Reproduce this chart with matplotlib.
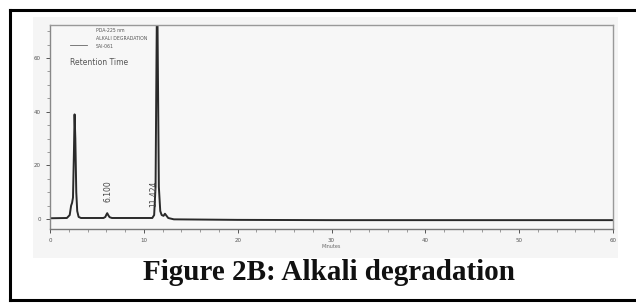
import matplotlib
matplotlib.use("Agg")
import matplotlib.pyplot as plt
from matplotlib.patches import Rectangle
from matplotlib.lines import Line2D
from matplotlib.ticker import MultipleLocator

# Chromatogram trace (retention time in minutes, detector response)
times = [0.0, 1.8, 2.1, 2.25, 2.35, 2.45, 2.55, 2.62, 2.7, 2.8, 2.9, 3.05, 3.3, 5.7, 5.9, 6.0, 6.1, 6.2,
         6.35, 6.6, 10.9, 11.1, 11.25, 11.35, 11.42, 11.5, 11.6, 11.75, 11.9, 12.1, 12.25, 12.4, 12.6, 13.2,
         20.0, 30.0, 40.0, 50.0, 60.0]
signal = [0.3, 0.4, 1.5, 5.0, 6.0, 8.0, 25.0, 39.0, 30.0, 10.0, 3.0, 0.8, 0.4, 0.4, 0.8, 1.6, 2.2, 1.5,
          0.7, 0.4, 0.4, 1.5, 12.0, 60.0, 90.0, 55.0, 12.0, 3.0, 1.5, 1.2, 2.0, 1.3, 0.4, -0.1,
          -0.3, -0.4, -0.4, -0.4, -0.4]

peak_labels = ["6.100", "11.424"]
peak_label_x = [6.2, 11.05]
peak_label_y = [6.5, 4.5]

x_ticks = [0, 10, 20, 30, 40, 50, 60]
y_ticks = [0, 20, 40, 60]

legend_lines = ["PDA-225 nm", "ALKALI DEGRADATION", "SAI-061"]
caption = "Figure 2B: Alkali degradation"

W, H = 636, 303
fig = plt.figure(figsize=(W / 100, H / 100), dpi=100)
fig.patch.set_facecolor("white")

# outer black frame (no right border)
frame = [((10, 10), (636, 10)), ((10, 10), (10, 300)), ((10, 300), (636, 300))]
for (x0, y0), (x1, y1) in frame:
    fig.add_artist(Line2D([x0 / W, x1 / W], [1 - y0 / H, 1 - y1 / H], color="black", lw=2.2,
                          transform=fig.transFigure))

# scanned-image grey panel
fig.add_artist(Rectangle((33 / W, 1 - 258 / H), (618 - 33) / W, (258 - 17) / H,
                         transform=fig.transFigure, facecolor="#f5f5f5", edgecolor="none", zorder=0))

ax = fig.add_axes([50 / W, 1 - 229 / H, (613 - 50) / W, (229 - 25) / H])
ax.set_facecolor("#f7f7f7")
ax.plot(times, signal, color="#2a2a2a", lw=1.4)
ax.set_xlim(0, 60)
ax.set_ylim(-3.7, 72.3)
ax.set_xticks(x_ticks)
ax.set_yticks(y_ticks)
ax.xaxis.set_minor_locator(MultipleLocator(2))
ax.yaxis.set_minor_locator(MultipleLocator(5))
ax.tick_params(axis="both", which="major", labelsize=4, colors="#555555", length=3, width=0.7,
               labelcolor="#555555")
ax.tick_params(axis="both", which="minor", colors="#777777", length=2, width=0.5)
for s in ax.spines.values():
    s.set_color("#999999")
    s.set_linewidth(1.0)
ax.spines["left"].set_color("#888888")
ax.spines["bottom"].set_color("#777777")
ax.set_xlabel("Minutes", fontsize=3.5, color="#666666", labelpad=1)

for lab, tx, ty in zip(peak_labels, peak_label_x, peak_label_y):
    ax.text(tx, ty, lab, rotation=90, fontsize=5.5, color="#444444", ha="center", va="bottom")

# legend block
ax.add_line(Line2D([0.035, 0.065], [0.9, 0.9], transform=ax.transAxes, color="#666666", lw=0.6))
for i, t in enumerate(legend_lines):
    ax.text(0.082, 0.985 - i * 0.04, t, transform=ax.transAxes, fontsize=3.3, color="#555555",
            ha="left", va="top")
ax.text(0.035, 0.84, "Retention Time", transform=ax.transAxes, fontsize=5.5, color="#555555",
        ha="left", va="top")

fig.text(329 / W, 1 - 273 / H, caption, fontsize=21, fontweight="bold", family="Liberation Serif",
         ha="center", va="center", color="#111111")

fig.savefig("out.png", dpi=100)
